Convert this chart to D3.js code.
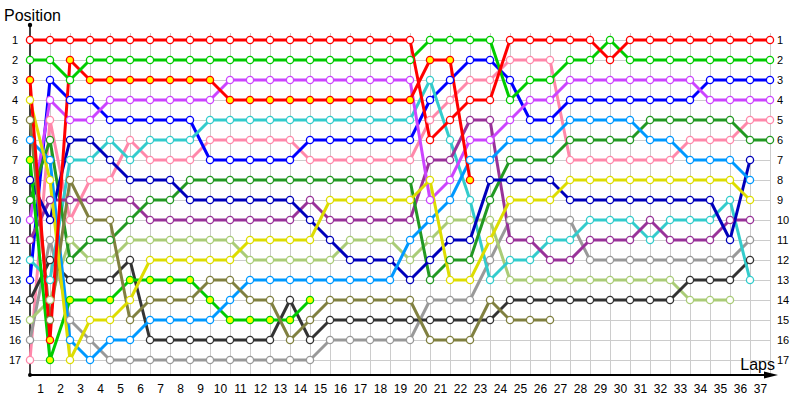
<!DOCTYPE html>
<html><head><meta charset="utf-8">
<script src="https://cdn.jsdelivr.net/npm/d3@7/dist/d3.min.js"></script>
<style>body{margin:0;background:#fff} text{font-family:"Liberation Sans",Arial,sans-serif;fill:#000}</style>
</head><body><svg id="c" width="800" height="400"></svg>
<script>
// lap 0 = starting grid
const laps = d3.range(0, 38);
const lapLabels = d3.range(1, 38);
const positions = d3.range(1, 18);

const redA        = [1,1,1,1,1,1,1,1,1,1,1,1,1,1,1,1,1,1,1,1,6,5,4,4,1,1,1,1,1,2,1,1,1,1,1,1,1,1];
const greenA      = [2,2,3,2,2,2,2,2,2,2,2,2,2,2,2,2,2,2,2,2,1,1,1,1,4,3,3,2,2,1,2,2,2,2,2,2,2,2];
const redB        = [3,16,2,3,3,3,3,3,3,3,4,4,4,4,4,4,4,4,4,4,2,2,8];
const yellow      = [4,8,17,15,15,14,12,12,12,12,12,11,11,11,11,9,9,9,9,9,8,13,13,11,9,9,9,8,8,8,8,8,8,8,8,8,9];
const olive       = [5,15,8,10,10,15,14,14,14,13,13,14,14,16,15,14,14,14,14,14,16,16,16,14,15,15,15];
const lightBlue   = [6,7,16,17,16,16,15,15,15,15,14,13,13,13,13,13,13,13,13,11,10,9,7,7,6,6,6,5,5,5,5,6,6,7,7,7,8];
const greenB      = [7,17,14,14,14,13,13,13,13,14,15,15,15,15,14];
const darkBlue    = [8,10,6,6,7,8,8,8,9,9,9,9,9,9,10,11,12,12,12,13,12,11,11,8,8,8,8,9,9,9,9,9,9,9,9,11,7];
const forestGreen = [9,6,12,11,11,10,9,9,8,8,8,8,8,8,8,8,8,8,8,8,13,12,12,9,7,7,7,6,6,6,6,5,5,5,5,5,6,6];
const lightPurple = [10,4,5,5,4,4,4,4,4,4,3,3,3,3,3,3,3,3,3,3,9,8,6,6,5,4,4,3,3,3,3,3,3,3,4,4,4,4];
const darkPurple  = [11,9,9,9,9,9,10,10,10,10,10,10,10,10,9,10,10,10,10,10,7,7,5,5,11,11,12,12,11,11,11,10,11,11,11,10,10];
const cyan        = [12,13,7,7,6,7,6,6,6,5,5,5,5,5,5,5,5,5,5,5,3,6,9,13,12,12,11,11,10,10,10,11,10,10,10,9,13];
const blue        = [13,3,4,4,5,5,5,5,5,7,7,7,7,7,6,6,6,6,6,6,4,3,2,2,3,5,5,4,4,4,4,4,4,4,3,3,3,3];
const darkGray    = [14,12,13,13,13,12,16,16,16,16,16,16,16,14,16,15,15,15,15,15,15,15,15,15,14,14,14,14,14,14,14,14,14,13,13,13,12];
const lightGreen  = [15,14,11,12,12,11,11,11,11,11,11,12,12,12,12,12,11,11,11,12,11,10,10,10,13,13,13,13,13,13,13,13,13,14,14,14];
const gray        = [16,11,15,16,17,17,17,17,17,17,17,17,17,17,17,16,16,16,16,16,14,14,14,12,10,10,10,10,12,12,12,12,12,12,12,12,11];
const pink        = [17,5,10,8,8,6,7,7,7,6,6,6,6,6,7,7,7,7,7,7,5,4,3,3,2,2,2,7,7,7,7,7,7,6,6,6,5,5];

const seriesValues = [pink, gray, lightGreen, darkGray, blue, cyan, darkPurple, lightPurple, forestGreen, darkBlue, greenB, lightBlue, olive, yellow, redB, greenA, redA];
const seriesColors = ["#ff88aa","#999999","#aacc77","#333333","#0000ff","#33cccc","#993399","#cc44ff","#229922","#0000bb","#00cc00","#0099ff","#808040","#dddd00","#ff0000","#00cc00","#ff0000"];
const seriesFills  = ["#fff","#fff","#fff","#fff","#fff","#fff","#fff","#fff","#fff","#fff","#ffff00","#fff","#fff","#fff","#ffff00","#fff","#fff"];

const svg = d3.select("#c");
const x = d3.scaleLinear().domain([0, 37]).range([30, 770]);
const y = d3.scaleLinear().domain([1, 17]).range([40, 360]);

// grid
const grid = svg.append("g").attr("stroke", "#cccccc").attr("stroke-width", 1);
grid.selectAll("line.v").data(lapLabels).join("line").attr("class","v")
  .attr("x1", d => x(d) + 0.5).attr("x2", d => x(d) + 0.5).attr("y1", 33).attr("y2", 375);
grid.selectAll("line.h").data(positions).join("line").attr("class","h")
  .attr("x1", x(0)).attr("x2", x(37)).attr("y1", d => y(d) + 0.5).attr("y2", d => y(d) + 0.5);

// axes labels
const xAxis = svg.append("g").attr("transform", "translate(0,375)")
  .call(d3.axisBottom(x).tickValues(lapLabels.map(d => d - 0.5)).tickFormat(d => Math.round(d + 0.5)).tickSize(0).tickPadding(9));
xAxis.select(".domain").remove();
xAxis.selectAll("text").style("font-size", "12px");

const yLeft = svg.append("g").attr("transform", "translate(30,0)")
  .call(d3.axisLeft(y).tickValues(positions).tickFormat(d3.format("d")).tickSize(0));
yLeft.select(".domain").remove();
yLeft.selectAll("text").attr("x", -15).attr("text-anchor", "middle").style("font-size", "11px");

const yRight = svg.append("g").attr("transform", "translate(770,0)")
  .call(d3.axisRight(y).tickValues(positions).tickFormat(d3.format("d")).tickSize(0).tickPadding(7));
yRight.select(".domain").remove();
yRight.selectAll("text").style("font-size", "11px");

// axis lines
svg.append("line").attr("x1", 30).attr("x2", 30).attr("y1", 25).attr("y2", 375).attr("stroke", "#000").attr("stroke-width", 1.5);
svg.append("circle").attr("cx", 30).attr("cy", 25).attr("r", 2.2).attr("fill", "#000");
svg.append("line").attr("x1", 30).attr("x2", 768).attr("y1", 375).attr("y2", 375).attr("stroke", "#000").attr("stroke-width", 1.8);
svg.append("circle").attr("cx", 30).attr("cy", 375).attr("r", 2).attr("fill", "#000");
svg.append("path").attr("d", "M764,371.5 L778,375 L764,378.5 Z").attr("fill", "#000");

svg.append("text").attr("x", 4).attr("y", 21).style("font-size", "16px").text("Position");
svg.append("text").attr("x", 775).attr("y", 370).attr("text-anchor", "end").style("font-size", "16px").text("Laps");

// lines
const line = d3.line().x((d, i) => x(laps[i])).y(d => y(d));
svg.append("g").selectAll("path").data(seriesValues).join("path")
  .attr("d", d => line(d)).attr("fill", "none")
  .attr("stroke", (d, i) => seriesColors[i]).attr("stroke-width", 3).attr("stroke-linejoin", "round");

// markers
const mk = svg.append("g");
seriesValues.forEach((vals, si) => {
  mk.append("g").selectAll("circle").data(vals).join("circle")
    .attr("cx", (d, i) => x(laps[i])).attr("cy", d => y(d)).attr("r", 3.6)
    .attr("fill", seriesFills[si]).attr("stroke", seriesColors[si]).attr("stroke-width", 1.3);
});
</script></body></html>
